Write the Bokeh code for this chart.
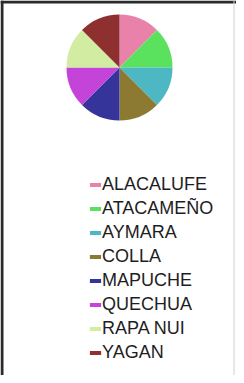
import math
from bokeh.plotting import figure
from bokeh.models import Range1d, Span, Legend, LegendItem, ColumnDataSource
from bokeh.embed import file_html
from bokeh.resources import INLINE

categories = ["ALACALUFE", "ATACAMEÑO", "AYMARA", "COLLA", "MAPUCHE", "QUECHUA", "RAPA NUI", "YAGAN"]
values = [1, 1, 1, 1, 1, 1, 1, 1]
colors = ["#e882aa", "#5ae25e", "#4db8c4", "#8c7a32", "#34349a", "#c443d8", "#d2eca2", "#8e2f30"]

W, H = 236, 375
p = figure(width=W, height=H, output_backend="svg", toolbar_location=None,
           x_range=Range1d(0, W), y_range=Range1d(0, H), min_border=0)
p.axis.visible = False
p.grid.visible = False
p.outline_line_color = None
p.background_fill_color = "white"
p.border_fill_color = "white"

# frame lines
p.add_layout(Span(location=1.5, dimension="height", line_color="#2a2a2a", line_width=3))
p.add_layout(Span(location=H - 1.5, dimension="width", line_color="#2a2a2a", line_width=3))
p.add_layout(Span(location=233.5, dimension="height", line_color="#cfcfcf", line_width=1))

total = sum(values)
starts, ends = [], []
acc = 0.0
for v in values:
    a0 = math.pi / 2 - 2 * math.pi * acc / total
    acc += v
    a1 = math.pi / 2 - 2 * math.pi * acc / total
    starts.append(a1)
    ends.append(a0)

cx, cy = 119, H - 67
items = []
for i, c in enumerate(categories):
    src = ColumnDataSource(dict(x=[cx], y=[cy], s=[starts[i]], e=[ends[i]]))
    r = p.wedge(x="x", y="y", radius=53, radius_units="screen", start_angle="s", end_angle="e",
                fill_color=colors[i], line_color=None, source=src)
    items.append(LegendItem(label=c, renderers=[r]))

legend = Legend(items=items, location=(88, 12), orientation="vertical",
                glyph_width=14, glyph_height=5, label_standoff=0,
                label_text_font="Liberation Sans", label_text_font_size="18px",
                label_text_color="#1e1e1e", label_height=20, spacing=3,
                padding=0, margin=0, border_line_color=None, background_fill_alpha=0)
p.add_layout(legend, "center")

open("out.html", "w").write(file_html(p, INLINE))
